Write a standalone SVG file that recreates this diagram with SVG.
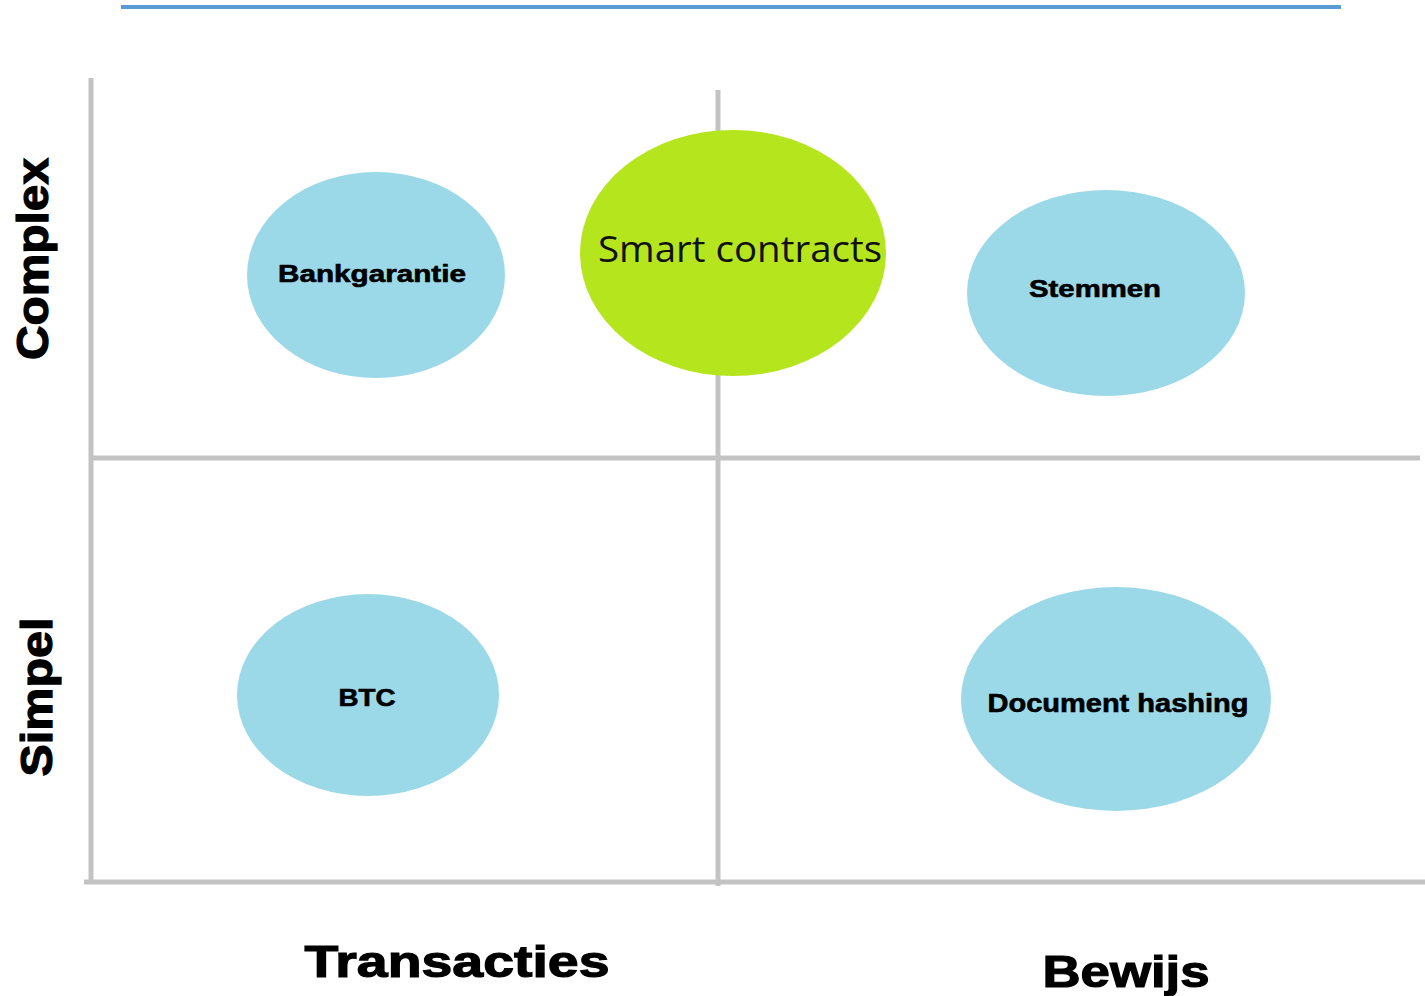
<svg xmlns="http://www.w3.org/2000/svg" width="1425" height="996" viewBox="0 0 1425 996">
<style>
.axis{stroke:#c3c3c3;stroke-width:5;fill:none}
.blue{fill:#9cd9e8}
.green{fill:#b5e61d}
.lbl{font-family:"Liberation Sans",Arial,sans-serif;font-weight:bold;fill:#000;stroke:#000;stroke-width:0.6;text-anchor:middle}
.big{font-family:"Liberation Sans",Arial,sans-serif;font-weight:bold;fill:#000;stroke:#000;stroke-width:1.2;text-anchor:middle}
.smart{font-family:"Open Sans","Liberation Sans",sans-serif;fill:#111;text-anchor:middle}
</style>
<rect width="1425" height="996" fill="#ffffff"/>
<line x1="121" y1="7" x2="1341" y2="7" stroke="#5b9bd5" stroke-width="4"/>
<g id="connectors">
<line class="axis" x1="91" y1="78" x2="91" y2="882"/>
<line class="axis" x1="718" y1="90" x2="718" y2="886"/>
<line class="axis" x1="92" y1="458" x2="1420" y2="458"/>
<line class="axis" x1="84" y1="882" x2="1425" y2="882"/>
</g>
<g id="bankgarantie">
<ellipse class="blue" cx="376" cy="275" rx="129" ry="103"/>
<text class="lbl" x="372" y="282" font-size="23" textLength="188" lengthAdjust="spacingAndGlyphs">Bankgarantie</text>
</g>
<g id="smart-contracts">
<ellipse class="green" cx="733" cy="253" rx="153" ry="123"/>
<text class="smart" x="740" y="262" font-size="37" textLength="284" lengthAdjust="spacingAndGlyphs">Smart contracts</text>
</g>
<g id="stemmen">
<ellipse class="blue" cx="1106" cy="293" rx="139" ry="103"/>
<text class="lbl" x="1095" y="297" font-size="23" textLength="132" lengthAdjust="spacingAndGlyphs">Stemmen</text>
</g>
<g id="btc">
<ellipse class="blue" cx="368" cy="695" rx="131" ry="101"/>
<text class="lbl" x="367" y="706" font-size="23" textLength="57" lengthAdjust="spacingAndGlyphs">BTC</text>
</g>
<g id="document-hashing">
<ellipse class="blue" cx="1116" cy="699" rx="155" ry="112"/>
<text class="lbl" x="1118" y="712" font-size="25" textLength="261" lengthAdjust="spacingAndGlyphs">Document hashing</text>
</g>
<g id="axis-labels">
<text class="big" x="457" y="977" font-size="45" textLength="305" lengthAdjust="spacingAndGlyphs">Transacties</text>
<text class="big" x="1126" y="987" font-size="45" textLength="167" lengthAdjust="spacingAndGlyphs">Bewijs</text>
<text class="big" transform="translate(48,259) rotate(-90)" x="0" y="0" font-size="44" textLength="202" lengthAdjust="spacingAndGlyphs">Complex</text>
<text class="big" transform="translate(52,697) rotate(-90)" x="0" y="0" font-size="44" textLength="159" lengthAdjust="spacingAndGlyphs">Simpel</text>
</g>
</svg>
